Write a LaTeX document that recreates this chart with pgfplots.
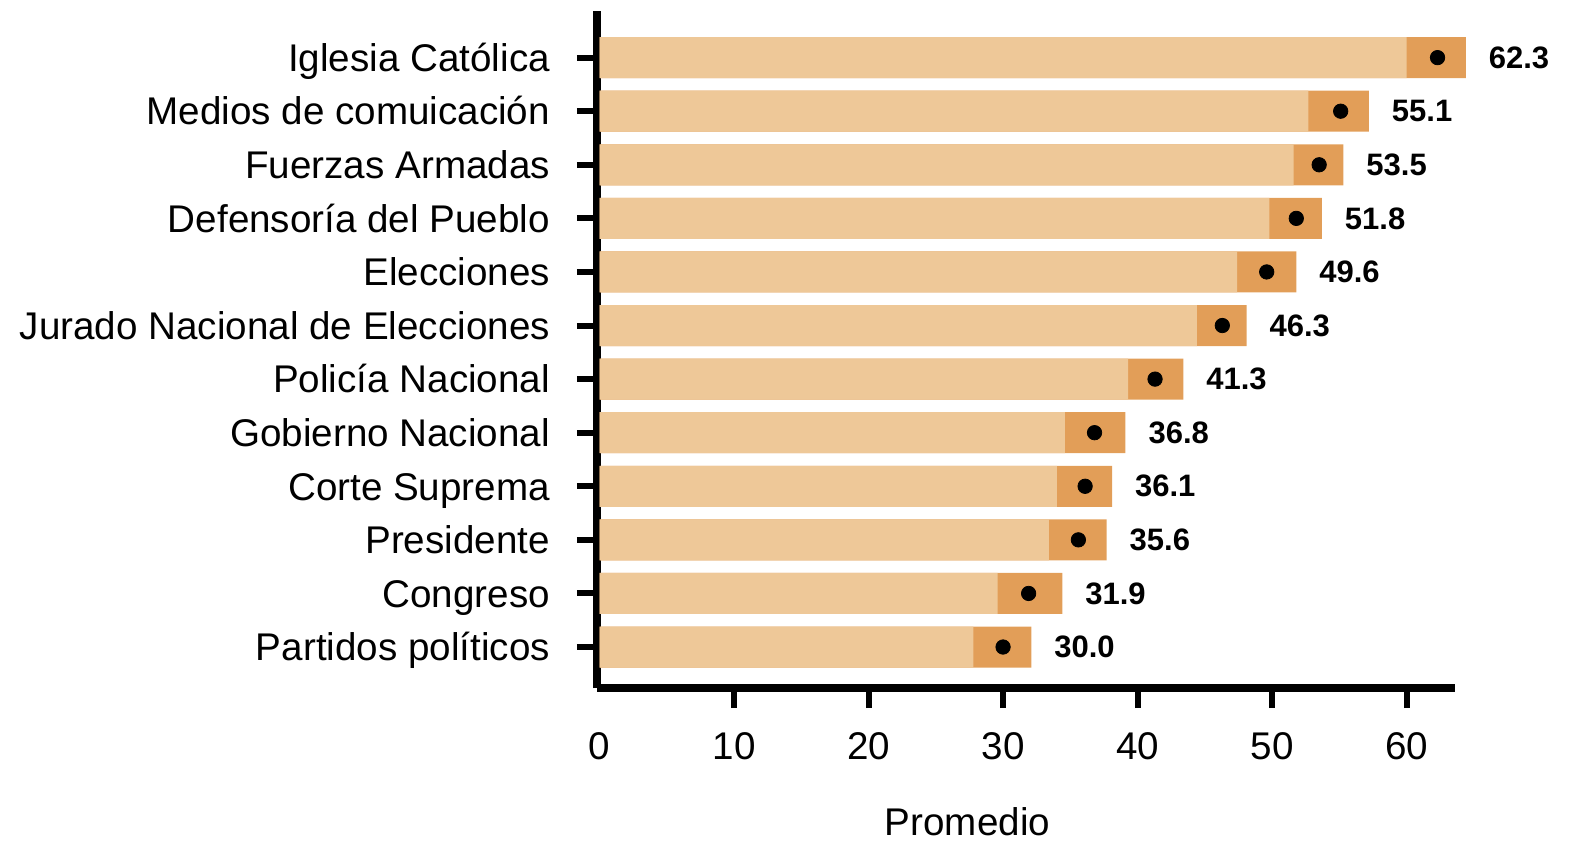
\documentclass[border=0pt]{standalone}
\usepackage{fontspec}
\setmainfont{Liberation Sans}
\usepackage{pgfplots}
\pgfplotsset{compat=1.18}
\usepackage{pgfplotstable}
\definecolor{lightbar}{RGB}{238,200,152}
\definecolor{darkbar}{RGB}{226,158,88}
\pgfplotstableread{
idx lower upper mean lab
0 27.8 32.1 30.0 30.0
1 29.6 34.4 31.9 31.9
2 33.4 37.7 35.6 35.6
3 34.0 38.1 36.1 36.1
4 34.6 39.1 36.8 36.8
5 39.3 43.4 41.3 41.3
6 44.4 48.1 46.3 46.3
7 47.4 51.8 49.6 49.6
8 49.8 53.7 51.8 51.8
9 51.6 55.3 53.5 53.5
10 52.7 57.2 55.1 55.1
11 60.0 64.4 62.3 62.3
}\data
\begin{document}
\begin{tikzpicture}
\useasboundingbox (-298.5pt,-77.5pt) rectangle (486pt,344pt);
\begin{axis}[
  at={(0,0)}, anchor=south west,
  scale only axis, width=429pt, height=338.5pt,
  xmin=-0.19, xmax=63.6, ymin=-0.765, ymax=11.87,
  axis x line*=bottom, axis y line*=left,
  axis line style={line width=3.7pt, black},
  xtick={10,20,...,60},
  extra x ticks={0},
  extra x tick style={major tick style={draw=none}},
  ytick={0,...,11},
  yticklabels={Partidos políticos, Congreso, Presidente, Corte Suprema, Gobierno Nacional, Policía Nacional, Jurado Nacional de Elecciones, Elecciones, Defensoría del Pueblo, Fuerzas Armadas, Medios de comuicación, Iglesia Católica},
  tick align=outside, major tick length=10pt,
  major tick style={line width=3pt, black},
  ticklabel style={font=\fontsize{19.3pt}{23pt}\selectfont},
  xticklabel style={yshift=-8.5pt},
  yticklabel style={xshift=-10pt, text height=13.8pt, text depth=0pt},
  /pgf/number format/assume math mode=true,
  xlabel={Promedio},
  xlabel style={at={(axis description cs:0.4318,0)}, anchor=base, yshift=-73.5pt, font=\fontsize{19.3pt}{23pt}\selectfont},
  clip=false,
]
\addplot[xbar, bar width=20.5pt, bar shift=0pt, fill=darkbar, draw=none] table[x=upper, y=idx] {\data};
\addplot[xbar, bar width=20.5pt, bar shift=0pt, fill=lightbar, draw=none] table[x=lower, y=idx] {\data};
\addplot[only marks, mark=*, mark size=3.6pt, black] table[x=mean, y=idx] {\data};
\addplot[draw=none, mark=none, nodes near coords, point meta=explicit symbolic,
  every node near coord/.style={anchor=west, xshift=8pt, black, font=\bfseries\fontsize{15.5pt}{18pt}\selectfont}]
  table[x=upper, y=idx, meta=lab] {\data};
\end{axis}
\end{tikzpicture}
\end{document}
